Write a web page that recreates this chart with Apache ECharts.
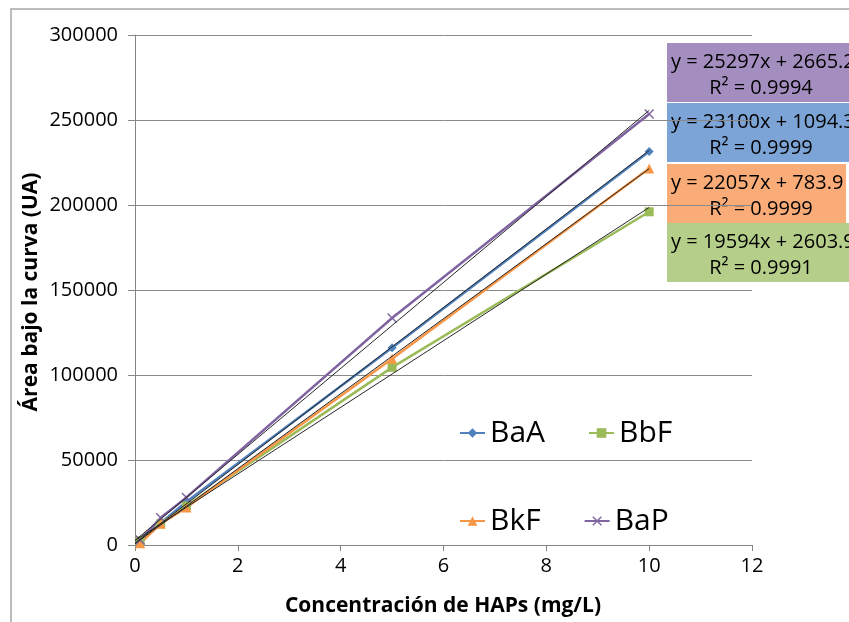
<!DOCTYPE html>
<html>
<head>
<meta charset="utf-8">
<script src="https://cdn.jsdelivr.net/npm/echarts@6/dist/echarts.min.js"></script>
<style>
  html, body { margin: 0; padding: 0; background: #fff; }
  #chart { width: 849px; height: 622px; }
</style>
</head>
<body>
<div id="chart"></div>
<script>
// 浓度 (mg/L)
const concentrations = [0.1, 0.5, 1, 5, 10]
// 各物质的峰面积，顺序和浓度一一对应
const baA = [3000, 13000, 25500, 116000, 231500]
const bbF = [2500, 12500, 23000, 104500, 196000]
const bkF = [1000, 12500, 22000, 109500, 221500]
const baP = [3000, 16000, 28000, 133500, 253500]
// 趋势线端点 (x = 0 与 x = 10)
const trendX = [0, 10]
const trendBaA = [1094, 232094]
const trendBbF = [2604, 198544]
const trendBkF = [784, 221354]
const trendBaP = [2665, 255635]
// 方程标签，从上到下
const eqLines = ['y = 25297x + 2665.2', 'y = 23100x + 1094.3', 'y = 22057x + 783.9', 'y = 19594x + 2603.9']
const r2Lines = ['R² = 0.9994', 'R² = 0.9999', 'R² = 0.9999', 'R² = 0.9991']
const eqColors = ['#a48ec0', '#7da4d6', '#faac78', '#b5ce8a']

const FONT = '"Open Sans", "Noto Sans", sans-serif'

const pairs = (xs, ys) => xs.map((x, i) => [x, ys[i]])

const crossPath = 'path://M0,1L1,0L5,4L9,0L10,1L6,5L10,9L9,10L5,6L1,10L0,9L4,5Z'

function dataSeries(name, values, color, symbol, size) {
  return {
    name,
    type: 'line',
    data: pairs(concentrations, values),
    symbol,
    symbolSize: size,
    lineStyle: { color, width: 2.5 },
    itemStyle: { color },
    z: 2,
  }
}

function trendSeries(values) {
  return {
    type: 'line',
    data: pairs(trendX, values),
    symbol: 'none',
    silent: true,
    lineStyle: { color: '#262626', width: 1 },
    z: 3,
  }
}

// 方程背景框和文字
const boxTops = [43, 103, 164, 223]
const eqGraphics = []
boxTops.forEach((top, i) => {
  eqGraphics.push({
    type: 'rect',
    z: -10,
    shape: { x: 667, y: top, width: i === 2 ? 179 : 200, height: 59 },
    style: { fill: eqColors[i] },
  })
  eqGraphics.push({
    type: 'text',
    z: -9,
    x: 671,
    y: top + 19,
    style: { text: eqLines[i], font: '20px ' + FONT, fill: '#000', textAlign: 'left', textVerticalAlign: 'middle' },
  })
  eqGraphics.push({
    type: 'text',
    z: -9,
    x: 761,
    y: top + 45,
    style: { text: r2Lines[i], font: '20px ' + FONT, fill: '#000', textAlign: 'center', textVerticalAlign: 'middle' },
  })
})

const chart = echarts.init(document.getElementById('chart'), null, { renderer: 'canvas' })

const legendText = { fontSize: 30, color: '#000', fontFamily: FONT }

chart.setOption({
  animation: false,
  textStyle: { fontFamily: FONT },
  grid: { left: 135, right: 97, top: 35, bottom: 77 },
  legend: [
    {
      data: ['BaA', 'BbF'],
      left: 459,
      top: 418,
      padding: 0,
      itemWidth: 25,
      itemHeight: 12,
      itemGap: 43,
      textStyle: legendText,
    },
    {
      data: ['BkF', 'BaP'],
      left: 459,
      top: 506,
      padding: 0,
      itemWidth: 25,
      itemHeight: 12,
      itemGap: 43,
      textStyle: legendText,
    },
  ],
  xAxis: {
    type: 'value',
    min: 0,
    max: 12,
    interval: 2,
    axisLine: { lineStyle: { color: '#868686' } },
    axisTick: { show: true, inside: false, length: 6, lineStyle: { color: '#868686' } },
    splitLine: { show: false },
    axisLabel: { fontSize: 20, color: '#000', margin: 11 },
  },
  yAxis: {
    type: 'value',
    min: 0,
    max: 300000,
    interval: 50000,
    axisLine: { show: true, lineStyle: { color: '#868686' } },
    axisTick: { show: true, inside: false, length: 7, lineStyle: { color: '#868686' } },
    splitLine: { show: true, lineStyle: { color: '#8a8a8a', width: 1 } },
    axisLabel: { fontSize: 20, color: '#000', margin: 17, formatter: v => String(v) },
  },
  graphic: [
    // 外框
    {
      type: 'rect',
      z: -20,
      shape: { x: 11, y: 9, width: 900, height: 700 },
      style: { fill: 'none', stroke: '#a6a6a6', lineWidth: 1.5 },
    },
    ...eqGraphics,
    // 坐标轴标题
    {
      type: 'text',
      x: 443,
      y: 606,
      style: { text: 'Concentración de HAPs (mg/L)', font: 'bold 21px ' + FONT, fill: '#000', textAlign: 'center', textVerticalAlign: 'middle' },
    },
    {
      type: 'text',
      x: 31,
      y: 292,
      rotation: Math.PI / 2,
      style: { text: 'Área bajo la curva (UA)', font: 'bold 21px ' + FONT, fill: '#000', textAlign: 'center', textVerticalAlign: 'middle' },
    },
  ],
  series: [
    dataSeries('BaA', baA, '#4f81bd', 'diamond', 9),
    dataSeries('BbF', bbF, '#9bbb59', 'rect', 9),
    dataSeries('BkF', bkF, '#f79646', 'triangle', 10),
    dataSeries('BaP', baP, '#8064a2', crossPath, 10),
    trendSeries(trendBaA),
    trendSeries(trendBbF),
    trendSeries(trendBkF),
    trendSeries(trendBaP),
  ],
})
</script>
</body>
</html>
